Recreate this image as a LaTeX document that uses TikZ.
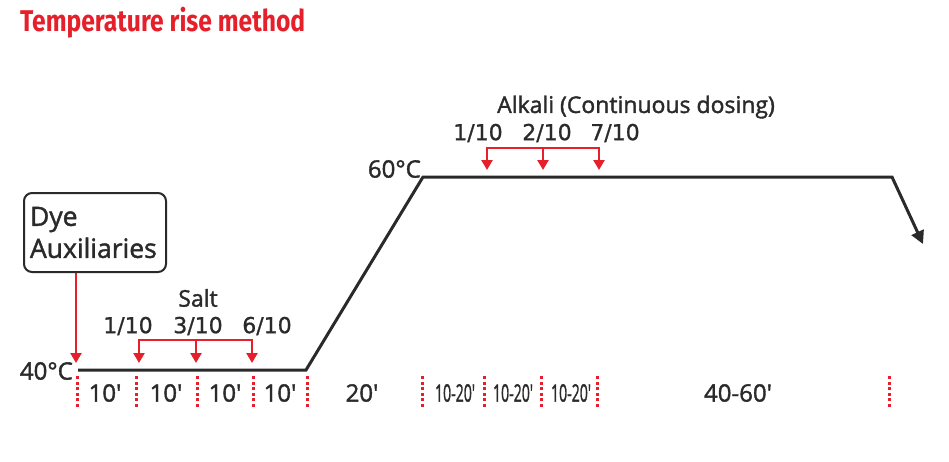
\documentclass[tikz,border=0pt]{standalone}
\usepackage{fontspec}
\setmainfont{Open Sans}[FakeBold=1.6]
\newfontfamily\titlefont{Fira Sans}
\newfontfamily\fracfont{DejaVu Sans}[FakeBold=1]
\usetikzlibrary{arrows.meta,positioning}

\definecolor{dosered}{HTML}{E5202B}
\definecolor{curvegray}{HTML}{2A2A2A}

\tikzset{
  profile/.style={draw=curvegray, line width=3pt, line join=miter},
  dose/.style={draw=dosered, line width=2.4pt, -{Triangle[width=11pt,length=10pt]}},
  tick/.style={draw=dosered, line width=3pt, dash pattern=on 3pt off 2.6pt},
  lbl/.style={inner sep=0pt, text=curvegray, font=\fontsize{24}{28}\selectfont},
  frac/.style={inner sep=0pt, text=curvegray, font=\fracfont\fontsize{22}{26}\selectfont},
}
\newcommand{\mins}[1]{#1\textquotesingle}

\begin{document}
\begin{tikzpicture}[x=1pt,y=-1pt]
    \useasboundingbox (0,0) rectangle (949,461);

    \node[anchor=base west, inner sep=0pt, text=dosered, font=\titlefont\bfseries\fontsize{30}{34}\selectfont]
        (title) at (20,31) {\resizebox{285pt}{\height}{Temperature rise method}};

    % temperature profile
    \coordinate (p0) at (78,370);
    \coordinate (p1) at (306,370);
    \coordinate (p2) at (423,177);
    \coordinate (p3) at (892,177);
    \coordinate (p4) at (923,244);
    \draw[profile, -{Triangle[width=13pt,length=13pt]}] (p0) -- (p1) -- (p2) -- (p3) -- (p4);

    \node[lbl, anchor=east] (t40) at (73,371) {40°C};
    \node[lbl, anchor=east] (t60) at (421,169) {60°C};

    % dye and auxiliaries at the start
    \node[draw=curvegray, line width=2pt, rounded corners=8pt, align=left, anchor=north west,
          text width=130pt, minimum height=79pt, inner xsep=6pt, inner ysep=5pt, text=curvegray,
          font=\fontsize{26.5}{32}\selectfont] (dye) at (23,192) {Dye\\Auxiliaries};
    \coordinate (dyein) at (76,363);
    \draw[dose] (dye.south -| dyein) -- (dyein);

    % salt in three portions
    \node[lbl, font=\fontsize{23}{26}\selectfont] (salt) at (198,298) {Salt};
    \foreach \x/\t [count=\i] in {128/1, 198/3, 267/6}
        \node[frac] (sf\i) at (\x,326) {\t/10};
    \foreach \x [count=\i] in {139, 196, 252} {
        \coordinate (sb\i) at (\x,340);
        \coordinate (s\i) at (\x,363);
    }
    \draw[dose, {Triangle[width=11pt,length=10pt]}-{Triangle[width=11pt,length=10pt]}] (s1) -- (sb1) -- (sb3) -- (s3);
    \draw[dose] (sb2) -- (s2);

    % alkali, continuous dosing
    \node[lbl, font=\fontsize{23}{26}\selectfont] (alkali) at (636,107) {Alkali (Continuous dosing)};
    \foreach \x/\t [count=\i] in {478/1, 547/2, 615/7}
        \node[frac] (af\i) at (\x,133) {\t/10};
    \foreach \x [count=\i] in {487, 543, 599} {
        \coordinate (ab\i) at (\x,148);
        \coordinate (a\i) at (\x,170);
    }
    \draw[dose, {Triangle[width=11pt,length=10pt]}-{Triangle[width=11pt,length=10pt]}] (a1) -- (ab1) -- (ab3) -- (a3);
    \draw[dose] (ab2) -- (a2);

    % time marks
    \foreach \x in {77, 136, 197, 253, 307, 422, 484, 541, 597, 889}
        \draw[tick] (\x,376) -- (\x,409);

    \foreach \x [count=\i] in {105, 166, 225, 280}
        \node[lbl] (m\i) at (\x,393) {\mins{10}};
    \node[lbl] (m5) at (362,393) {\mins{20}};
    \foreach \x [count=\i from 6] in {455, 513, 571}
        \node[lbl] (m\i) at (\x,393) {\resizebox{40pt}{\height}{\mins{10-20}}};
    \node[lbl] (m9) at (738,393) {\mins{40-60}};
\end{tikzpicture}
\end{document}
